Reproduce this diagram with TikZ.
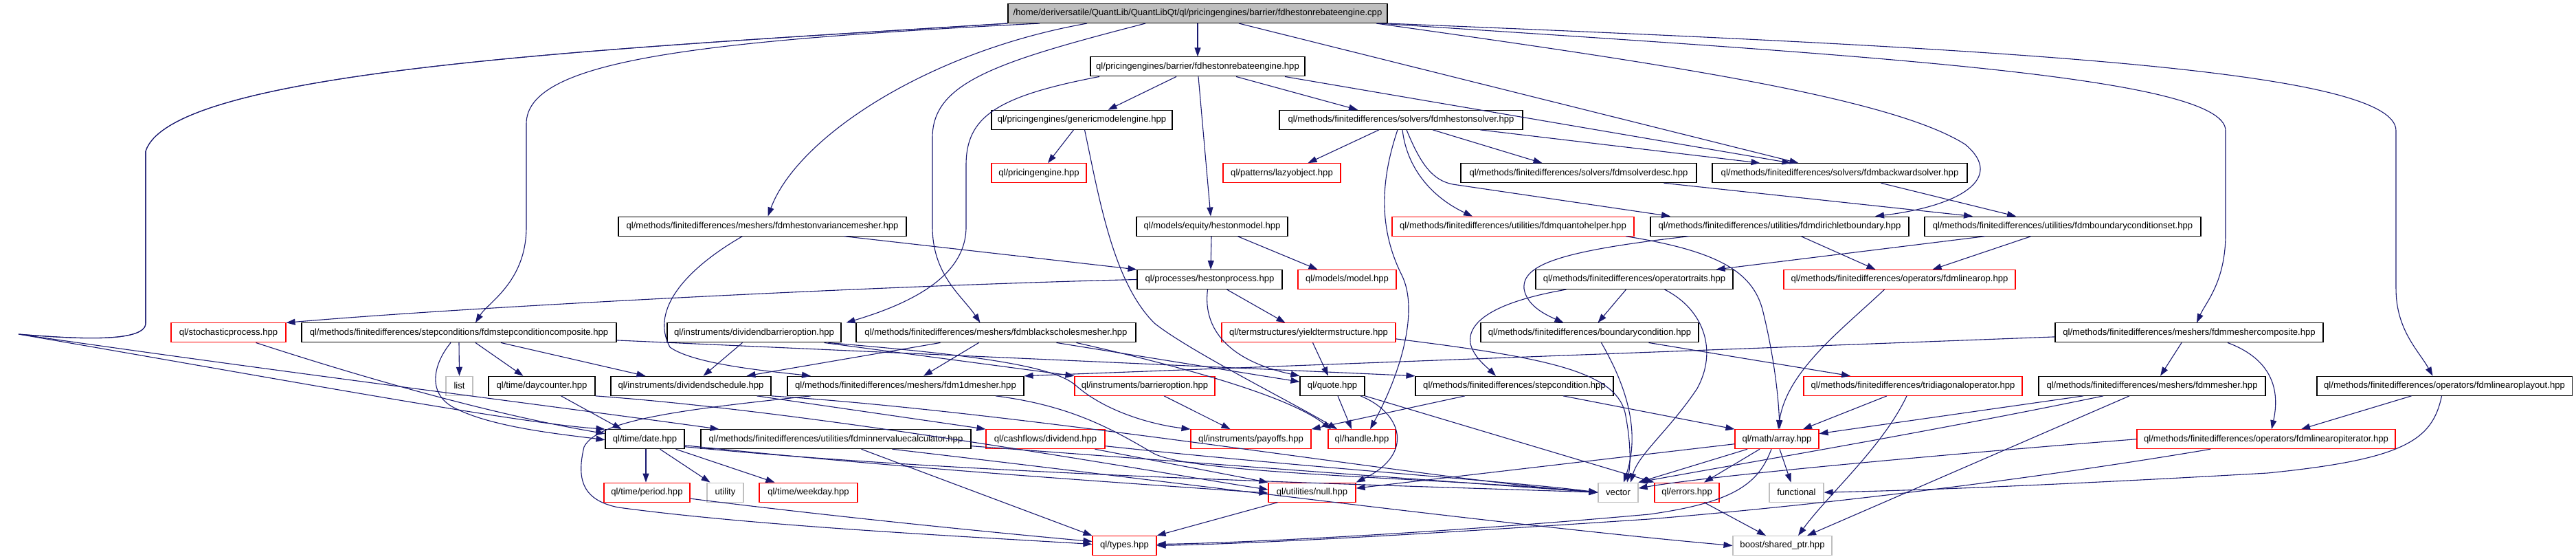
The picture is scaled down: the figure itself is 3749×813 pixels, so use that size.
\documentclass[tikz,border=0pt]{standalone}
\usepackage{fontspec}
\setmainfont{Liberation Sans}
\usetikzlibrary{arrows.meta}
\definecolor{edgec}{HTML}{191970}
\definecolor{redc}{HTML}{FF0000}
\definecolor{grayc}{HTML}{BFBFBF}
\tikzset{
 box/.style={rectangle, draw, line width=1.1pt, minimum height=28pt, inner sep=0pt, font=\fontsize{13.1pt}{15pt}\selectfont, fill=white},
 nb/.style={box, draw=black},
 nr/.style={box, draw=redc},
 ng/.style={box, draw=grayc},
 rootbox/.style={box, draw=black, fill=grayc},
 edg/.style={draw=edgec, line width=1.1pt, -{Triangle[length=13pt,width=9pt]}},
}
\begin{document}
\begin{tikzpicture}[x=1pt,y=-1pt]
\useasboundingbox (0,0) rectangle (3749,813);
% row 0-1
\node[rootbox, minimum width=552pt] (root) at (1743,19.5) {/home/deriversatile/QuantLib/QuantLibQt/ql/pricingengines/barrier/fdhestonrebateengine.cpp};
\node[nb, minimum width=312pt] (rebate) at (1743,96.9) {ql/pricingengines/barrier/fdhestonrebateengine.hpp};
% row 2
\node[nb, minimum width=263pt] (gme) at (1574.5,174.3) {ql/pricingengines/genericmodelengine.hpp};
\node[nb, minimum width=354pt] (hsolver) at (2039,174.3) {ql/methods/finitedifferences/solvers/fdmhestonsolver.hpp};
% row 3
\node[nr, minimum width=138pt] (pe) at (1512,251.7) {ql/pricingengine.hpp};
\node[nr, minimum width=171pt] (lazy) at (1865.5,251.7) {ql/patterns/lazyobject.hpp};
\node[nb, minimum width=343pt] (sdesc) at (2297.5,251.7) {ql/methods/finitedifferences/solvers/fdmsolverdesc.hpp};
\node[nb, minimum width=371pt] (bsolver) at (2677.5,251.7) {ql/methods/finitedifferences/solvers/fdmbackwardsolver.hpp};
% row 4
\node[nb, minimum width=419pt] (hvm) at (1109.5,329.1) {ql/methods/finitedifferences/meshers/fdmhestonvariancemesher.hpp};
\node[nb, minimum width=220pt] (hmodel) at (1764,329.1) {ql/models/equity/hestonmodel.hpp};
\node[nr, minimum width=352pt] (quanto) at (2202,329.1) {ql/methods/finitedifferences/utilities/fdmquantohelper.hpp};
\node[nb, minimum width=376pt] (dirichlet) at (2590,329.1) {ql/methods/finitedifferences/utilities/fdmdirichletboundary.hpp};
\node[nb, minimum width=402pt] (bcset) at (3002,329.1) {ql/methods/finitedifferences/utilities/fdmboundaryconditionset.hpp};
% row 5
\node[nb, minimum width=211pt] (hproc) at (1760.5,406.5) {ql/processes/hestonprocess.hpp};
\node[nr, minimum width=143pt] (model) at (1960.5,406.5) {ql/models/model.hpp};
\node[nb, minimum width=287pt] (optraits) at (2378.5,406.5) {ql/methods/finitedifferences/operatortraits.hpp};
\node[nr, minimum width=337pt] (linop) at (2764.5,406.5) {ql/methods/finitedifferences/operators/fdmlinearop.hpp};
% row 6
\node[nr, minimum width=167pt] (stoch) at (332.5,483.9) {ql/stochasticprocess.hpp};
\node[nb, minimum width=458pt] (stepcomp) at (668,483.9) {ql/methods/finitedifferences/stepconditions/fdmstepconditioncomposite.hpp};
\node[nb, minimum width=253pt] (divbarr) at (1097.5,483.9) {ql/instruments/dividendbarrieroption.hpp};
\node[nb, minimum width=407pt] (bsmesher) at (1449.5,483.9) {ql/methods/finitedifferences/meshers/fdmblackscholesmesher.hpp};
\node[nr, minimum width=253pt] (yts) at (1904.5,483.9) {ql/termstructures/yieldtermstructure.hpp};
\node[nb, minimum width=317pt] (bc) at (2313.5,483.9) {ql/methods/finitedifferences/boundarycondition.hpp};
\node[nb, minimum width=390pt] (mcomp) at (3186,483.9) {ql/methods/finitedifferences/meshers/fdmmeshercomposite.hpp};
% row 7
\node[ng, minimum width=39pt] (list) at (668.5,561.3) {list};
\node[nb, minimum width=155pt] (dc) at (788.5,561.3) {ql/time/daycounter.hpp};
\node[nb, minimum width=233pt] (divsched) at (1005.5,561.3) {ql/instruments/dividendschedule.hpp};
\node[nb, minimum width=344pt] (m1d) at (1318,561.3) {ql/methods/finitedifferences/meshers/fdm1dmesher.hpp};
\node[nr, minimum width=204pt] (barr) at (1666,561.3) {ql/instruments/barrieroption.hpp};
\node[nb, minimum width=94pt] (quote) at (1939,561.3) {ql/quote.hpp};
\node[nb, minimum width=288pt] (stepcond) at (2204,561.3) {ql/methods/finitedifferences/stepcondition.hpp};
\node[nr, minimum width=318pt] (tri) at (2784,561.3) {ql/methods/finitedifferences/tridiagonaloperator.hpp};
\node[nb, minimum width=330pt] (mesher) at (3132,561.3) {ql/methods/finitedifferences/meshers/fdmmesher.hpp};
\node[nb, minimum width=371pt] (layout) at (3557.5,561.3) {ql/methods/finitedifferences/operators/fdmlinearoplayout.hpp};
% row 8
\node[nb, minimum width=115pt] (date) at (938.5,638.7) {ql/time/date.hpp};
\node[nb, minimum width=393pt] (inner) at (1216.5,638.7) {ql/methods/finitedifferences/utilities/fdminnervaluecalculator.hpp};
\node[nr, minimum width=173pt] (dividend) at (1521.5,638.7) {ql/cashflows/dividend.hpp};
\node[nr, minimum width=175pt] (payoffs) at (1820.5,638.7) {ql/instruments/payoffs.hpp};
\node[nr, minimum width=98pt] (handle) at (1982,638.7) {ql/handle.hpp};
\node[nr, minimum width=122pt] (array) at (2586,638.7) {ql/math/array.hpp};
\node[nr, minimum width=376pt] (iter) at (3298,638.7) {ql/methods/finitedifferences/operators/fdmlinearopiterator.hpp};
% row 9
\node[nr, minimum width=125pt] (period) at (941.5,716.1) {ql/time/period.hpp};
\node[ng, minimum width=53pt] (utility) at (1055.5,716.1) {utility};
\node[nr, minimum width=143pt] (weekday) at (1176.5,716.1) {ql/time/weekday.hpp};
\node[nr, minimum width=127pt] (nul) at (1909.5,716.1) {ql/utilities/null.hpp};
\node[ng, minimum width=58pt] (vector) at (2355,716.1) {vector};
\node[nr, minimum width=94pt] (errors) at (2455,716.1) {ql/errors.hpp};
\node[ng, minimum width=79pt] (functional) at (2614.5,716.1) {functional};
% row 10
\node[nr, minimum width=93pt] (types) at (1636.5,793.5) {ql/types.hpp};
\node[ng, minimum width=144pt] (sptr) at (2594,793.5) {boost/shared\_ptr.hpp};

% ---- edges from root
\draw[edg] (root) -- (rebate);
\draw[edg] ([xshift=-161pt]root.south) .. controls (1350,75) and (1160,200) .. ([xshift=8pt]hvm.north);
\draw[edg] ([xshift=-230pt]root.south) .. controls (1000,60) and (766,90) .. (766,180) -- (766,330) .. controls (766,410) and (710,440) .. ([xshift=24pt]stepcomp.north);
\draw[edg] ([xshift=-76pt]root.south) .. controls (1450,90) and (1357,120) .. (1357,200) -- (1357,330) .. controls (1357,400) and (1400,430) .. ([xshift=-23pt]bsmesher.north);
\draw[edg] ([xshift=60pt]root.south) -- ([xshift=-60pt]bsolver.north);
\draw[edg] ([xshift=260pt]root.south) .. controls (2400,90) and (2750,140) .. (2860,210) .. controls (2920,260) and (2850,300) .. ([xshift=139pt]dirichlet.north);
\draw[edg] ([xshift=264pt]root.south) .. controls (2700,80) and (3239,110) .. (3239,190) -- (3239,340) .. controls (3239,410) and (3210,440) .. ([xshift=11pt]mcomp.north);
\draw[edg] (root.south east) .. controls (2900,70) and (3487,100) .. (3487,190) -- (3487,420) .. controls (3487,480) and (3520,510) .. ([xshift=-17pt]layout.north);
\draw[edg] (root.south west) .. controls (900,70) and (250,100) .. (212,220) -- (212,470) .. controls (212,500) and (100,492) .. (27,486) .. controls (400,540) and (800,590) .. ([xshift=-170pt]inner.north);
\draw[edg] (root.south west) .. controls (900,70) and (250,100) .. (212,220) -- (212,470) .. controls (212,500) and (100,492) .. (27,486) .. controls (400,550) and (750,615) .. (date.north west);

% ---- rebate
\draw[edg] ([xshift=-31pt]rebate.south) -- ([xshift=38pt]gme.north);
\draw[edg] ([xshift=56pt]rebate.south) -- ([xshift=-63pt]hsolver.north);
\draw[edg] ([xshift=1pt]rebate.south) -- ([xshift=-2pt]hmodel.north);
\draw[edg] ([xshift=127pt]rebate.south) -- ([xshift=-71pt]bsolver.north);
\draw[edg] ([xshift=-143pt]rebate.south) .. controls (1450,140) and (1406,170) .. (1406,240) -- (1406,330) .. controls (1406,400) and (1330,440) .. ([xshift=134pt]divbarr.north);

% ---- gme
\draw[edg] ([xshift=-12pt]gme.south) -- ([xshift=13pt]pe.north);
\draw[edg] ([xshift=4pt]gme.south) .. controls (1600,290) and (1620,410) .. (1680,470) .. controls (1730,510) and (1880,585) .. ([xshift=-36pt]handle.north);

% ---- hsolver
\draw[edg] ([xshift=-32pt]hsolver.south) -- ([xshift=38pt]lazy.north);
\draw[edg] ([xshift=46pt]hsolver.south) -- ([xshift=-53pt]sdesc.north);
\draw[edg] ([xshift=115pt]hsolver.south) -- ([xshift=-116pt]bsolver.north);
\draw[edg] ([xshift=2pt]hsolver.south) .. controls (2048,250) and (2090,290) .. ([xshift=-59pt]quanto.north);
\draw[edg] ([xshift=8pt]hsolver.south) .. controls (2068,240) and (2085,262) .. (2114,268) -- ([xshift=-159pt]dirichlet.north);
\draw[edg] ([xshift=-5pt]hsolver.south) .. controls (2010,260) and (2005,330) .. (2040,400) .. controls (2065,450) and (2040,540) .. ([xshift=12pt]handle.north);

% ---- row 3/4
\draw[edg] ([xshift=124pt]sdesc.south) -- ([xshift=-131pt]bcset.north);
\draw[edg] ([xshift=60pt]bsolver.south) -- ([xshift=-68pt]bcset.north);
\draw[edg] ([xshift=31pt]dirichlet.south) -- ([xshift=-35pt]linop.north);
\draw[edg] ([xshift=-132pt]dirichlet.south) .. controls (2270,365) and (2215,385) .. (2218,420) .. controls (2222,445) and (2250,458) .. ([xshift=-38pt]bc.north);
\draw[edg] ([xshift=-46pt]bcset.south) -- ([xshift=48pt]linop.north);
\draw[edg] ([xshift=-113pt]bcset.south) -- ([xshift=119pt]optraits.north);
\draw[edg] ([xshift=164pt]quanto.south) .. controls (2500,365) and (2550,395) .. (2565,450) .. controls (2580,510) and (2588,570) .. ([xshift=4pt]array.north);
\draw[edg] ([xshift=-1pt]hmodel.south) -- ([xshift=1.5pt]hproc.north);
\draw[edg] ([xshift=37pt]hmodel.south) -- ([xshift=-43pt]model.north);
\draw[edg] ([xshift=119pt]hvm.south) -- (hproc.north west);
\draw[edg] ([xshift=-29pt]hvm.south) .. controls (1000,390) and (945,450) .. (975,505) .. controls (1010,530) and (1120,540) .. ([xshift=-138pt]m1d.north);

% ---- row 5
\draw[edg] (hproc.west) .. controls (1300,415) and (700,445) .. (stoch.north east);
\draw[edg] ([xshift=25pt]hproc.south) -- ([xshift=-34pt]yts.north);
\draw[edg] ([xshift=-3pt]hproc.south) .. controls (1750,480) and (1790,525) .. (quote.north west);
\draw[edg] ([xshift=-12pt]optraits.south) -- ([xshift=12pt]bc.north);
\draw[edg] ([xshift=-99pt]optraits.south) .. controls (2170,440) and (2135,470) .. (2140,500) .. controls (2145,520) and (2165,535) .. ([xshift=-27pt]stepcond.north);
\draw[edg] ([xshift=44pt]optraits.south) .. controls (2480,450) and (2500,510) .. (2470,565) .. controls (2430,625) and (2385,660) .. ([xshift=18pt]vector.north);
\draw[edg] ([xshift=-22pt]linop.south) .. controls (2680,480) and (2600,540) .. ([xshift=2pt]array.north);

% ---- row 6
\draw[edg] ([xshift=40pt]stoch.south) .. controls (500,540) and (700,600) .. ([yshift=8pt]date.west);
\draw[edg] (stepcomp.south) -- (list.north);
\draw[edg] ([xshift=24pt]stepcomp.south) -- ([xshift=-27pt]dc.north);
\draw[edg] ([xshift=61pt]stepcomp.south) -- ([xshift=-66pt]divsched.north);
\draw[edg] ([xshift=-12pt]stepcomp.south) .. controls (630,530) and (620,575) .. (665,595) .. controls (720,622) and (820,632) .. ([yshift=-1pt]date.west);
\draw[edg] ([yshift=-11pt]stepcomp.east) -- (stepcond.north west);
\draw[edg] ([xshift=-17pt]divbarr.south) -- ([xshift=18pt]divsched.north);
\draw[edg] ([xshift=102pt]divbarr.south) -- (barr.north west);
\draw[edg] ([xshift=108pt]divbarr.south) .. controls (1400,515) and (1530,530) .. (1565,560) .. controls (1610,600) and (1680,618) .. (payoffs.north west);
\draw[edg] ([xshift=-25pt]bsmesher.south) -- ([xshift=26pt]m1d.north);
\draw[edg] ([xshift=-81pt]bsmesher.south) -- ([xshift=81pt]divsched.north);
\draw[edg] ([xshift=88pt]bsmesher.south) -- ([yshift=6pt]quote.west);
\draw[edg] ([xshift=117pt]bsmesher.south) .. controls (1750,540) and (1880,580) .. ([xshift=-45pt]handle.north);
\draw[edg] ([xshift=6pt]yts.south) -- ([xshift=-6pt]quote.north);
\draw[edg] ([yshift=-9pt]yts.east) .. controls (2250,520) and (2350,540) .. (2365,600) .. controls (2375,650) and (2372,680) .. ([xshift=13pt]vector.north);
\draw[edg] ([xshift=17pt]bc.south) .. controls (2360,550) and (2390,620) .. ([xshift=8pt]vector.north);
\draw[edg] ([xshift=86pt]bc.south) -- ([xshift=-91pt]tri.north);
\draw[edg] ([xshift=-11pt]mcomp.south) -- ([xshift=12pt]mesher.north);
\draw[edg] ([yshift=-6pt]mcomp.west) -- (m1d.north east);
\draw[edg] ([xshift=56pt]mcomp.south) .. controls (3300,520) and (3320,560) .. ([xshift=8pt]iter.north);

% ---- row 7
\draw[edg] ([xshift=28pt]dc.south) -- ([xshift=-34pt]date.north);
\draw[edg] (dc.south east) .. controls (1200,600) and (1700,690) .. ([yshift=4pt]nul.west);
\draw[edg] ([xshift=96pt]divsched.south) -- (dividend.north west);
\draw[edg] (divsched.south east) .. controls (1500,600) and (2100,700) .. (vector.west);
\draw[edg] ([xshift=-138pt]m1d.south) .. controls (1000,595) and (870,610) .. (850,650) .. controls (838,700) and (850,728) .. (900,738) .. controls (1100,765) and (1400,780) .. ([yshift=2pt]types.west);
\draw[edg] ([xshift=131pt]m1d.south) .. controls (1560,590) and (1620,625) .. (1680,660) .. controls (1740,690) and (2100,695) .. (vector.west);
\draw[edg] ([xshift=28pt]barr.south) -- ([xshift=-30pt]payoffs.north);
\draw[edg] ([xshift=8pt]quote.south) -- ([xshift=-15pt]handle.north);
\draw[edg] ([xshift=41pt]quote.south) .. controls (2040,600) and (2060,660) .. (nul.north east);
\draw[edg] (quote.south east) -- (errors.north west);
\draw[edg] ([xshift=-72pt]stepcond.south) -- (payoffs.north east);
\draw[edg] ([xshift=71pt]stepcond.south) -- (array.north west);
\draw[edg] ([xshift=-38pt]tri.south) -- ([xshift=38pt]array.north);
\draw[edg] ([xshift=-9pt]tri.south) .. controls (2740,650) and (2660,720) .. ([xshift=23pt]sptr.north);
\draw[edg] ([xshift=-100pt]mesher.south) -- ([yshift=8pt]array.east);
\draw[edg] ([xshift=-71pt]mesher.south) .. controls (2800,630) and (2500,680) .. (vector.north east);
\draw[edg] ([xshift=-33pt]mesher.south) -- ([xshift=36pt]sptr.north);
\draw[edg] ([xshift=-48pt]layout.south) -- ([xshift=51pt]iter.north);
\draw[edg] ([xshift=-4pt]layout.south) .. controls (3540,640) and (3500,668) .. (3300,688) .. controls (3000,705) and (2800,713) .. (functional.east);

% ---- row 8
\draw[edg] ([xshift=1.5pt]date.south) -- ([xshift=-1.5pt]period.north);
\draw[edg] ([xshift=22pt]date.south) -- ([xshift=-22pt]utility.north);
\draw[edg] ([xshift=45pt]date.south) -- ([xshift=-49pt]weekday.north);
\draw[edg] ([yshift=-9pt]date.east) .. controls (1300,680) and (1600,700) .. ([yshift=-1pt]nul.west);
\draw[edg] ([yshift=-11pt]date.east) .. controls (1400,690) and (2000,705) .. (vector.west);
\draw[edg] ([xshift=37pt]inner.south) -- (types.north west);
\draw[edg] ([xshift=82pt]inner.south) .. controls (1700,700) and (2200,765) .. (sptr.west);
\draw[edg] ([yshift=-10pt]inner.east) .. controls (1700,670) and (2100,700) .. (vector.west);
\draw[edg] ([xshift=72pt]dividend.south) -- (nul.north west);
\draw[edg] ([yshift=-10pt]dividend.east) .. controls (1900,680) and (2200,700) .. (vector.west);
\draw[edg] ([xshift=-25pt]array.south) -- ([xshift=25pt]errors.north);
\draw[edg] ([xshift=-43pt]array.south) -- (vector.north east);
\draw[edg] ([yshift=-7pt]array.west) -- ([yshift=6pt]nul.east);
\draw[edg] ([xshift=4pt]array.south) -- ([xshift=-8pt]functional.north);
\draw[edg] ([xshift=-8pt]array.south) .. controls (2560,700) and (2530,730) .. (2400,748) .. controls (2100,775) and (1800,790) .. ([yshift=2pt]types.east);
\draw[edg] ([xshift=-81pt]iter.south) .. controls (3000,690) and (2700,730) .. (2400,755) .. controls (2100,775) and (1850,790) .. (types.east);
\draw[edg] (iter.west) .. controls (2900,655) and (2500,690) .. ([yshift=6pt]vector.east);

% ---- row 9
\draw[edg] ([yshift=-9pt]period.east) .. controls (1200,750) and (1450,775) .. ([yshift=6pt]types.west);
\draw[edg] ([xshift=-50pt]nul.south) -- (types.north east);
\draw[edg] ([xshift=25pt]errors.south) -- ([xshift=-24pt]sptr.north);
\end{tikzpicture}
\end{document}
